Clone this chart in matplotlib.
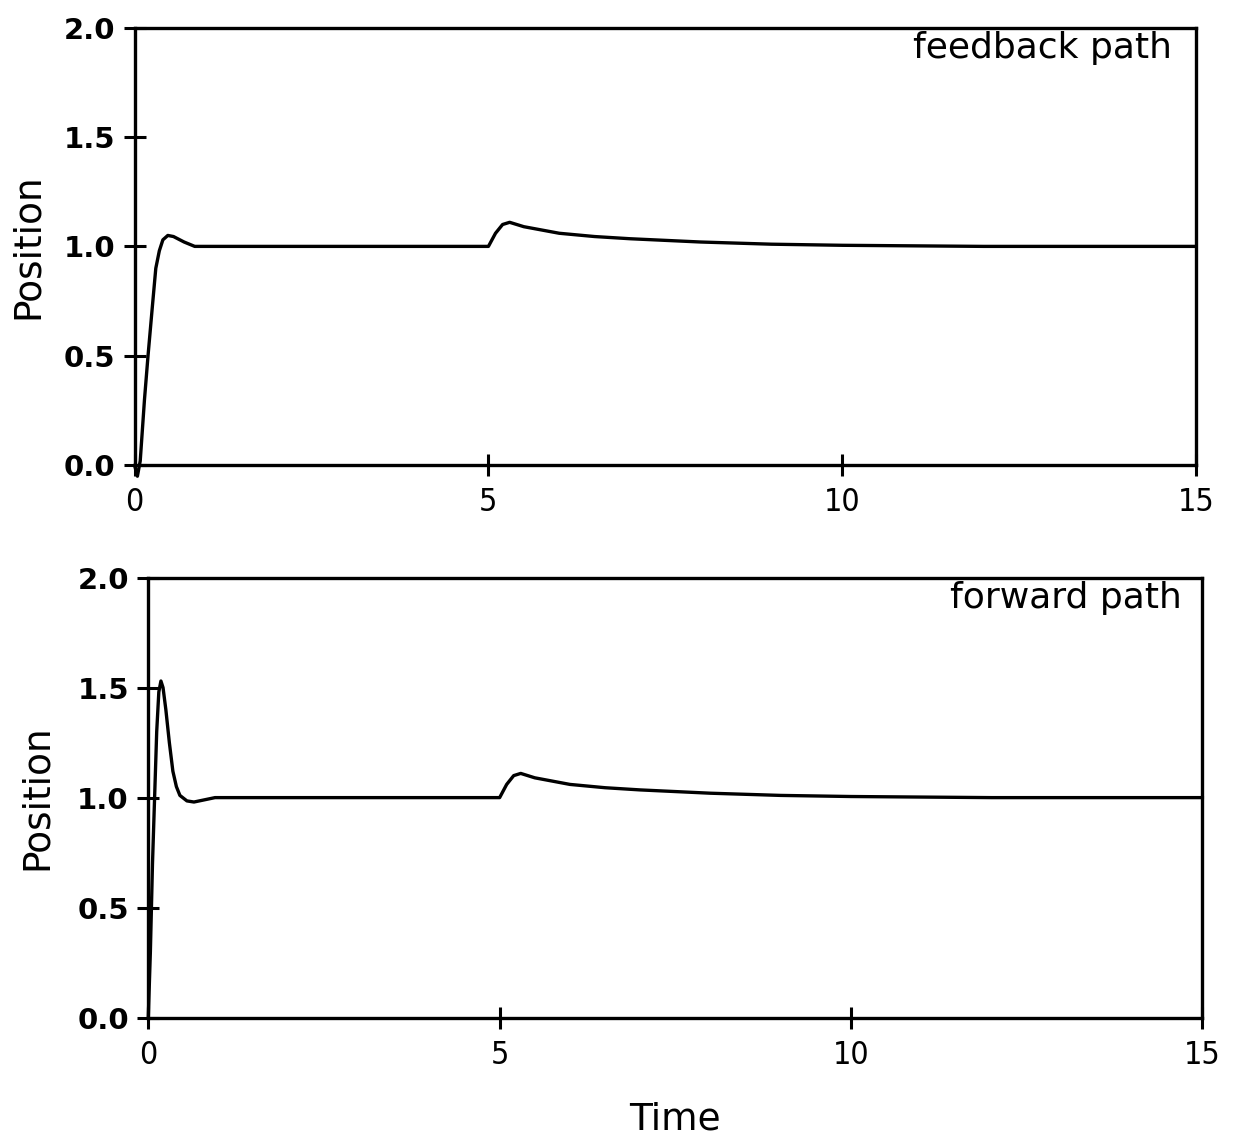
import matplotlib
matplotlib.use("Agg")
import matplotlib.pyplot as plt

# ---- data ----
t_feedback = [0.0, 0.04, 0.08, 0.14, 0.19, 0.25, 0.30, 0.35, 0.40, 0.47, 0.55, 0.70, 0.85,
              1.5, 2.5, 3.5, 4.5, 5.0, 5.1, 5.2, 5.3, 5.5, 6.0, 6.5, 7.0, 8.0, 9.0, 10.0, 12.0, 15.0]
y_feedback = [0.0, -0.05, 0.02, 0.30, 0.50, 0.72, 0.90, 0.98, 1.03, 1.05, 1.045, 1.02, 1.0,
              1.0, 1.0, 1.0, 1.0, 1.0, 1.06, 1.10, 1.11, 1.09, 1.06, 1.045, 1.035, 1.02, 1.01, 1.005, 1.0, 1.0]

t_forward = [0.0, 0.03, 0.06, 0.09, 0.12, 0.15, 0.18, 0.21, 0.25, 0.30, 0.35, 0.40, 0.45, 0.55, 0.65,
             0.80, 0.95, 2.0, 3.0, 4.0, 5.0, 5.1, 5.2, 5.3, 5.5, 6.0, 6.5, 7.0, 8.0, 9.0, 10.0, 12.0, 15.0]
y_forward = [0.0, 0.30, 0.70, 1.00, 1.30, 1.48, 1.53, 1.50, 1.40, 1.25, 1.12, 1.05, 1.01, 0.985, 0.98,
             0.99, 1.0, 1.0, 1.0, 1.0, 1.0, 1.06, 1.10, 1.11, 1.09, 1.06, 1.045, 1.035, 1.02, 1.01, 1.005, 1.0, 1.0]

x_ticks = [0, 5, 10, 15]
y_ticks = [0.0, 0.5, 1.0, 1.5, 2.0]
y_ticklabels = ["0.0", "0.5", "1.0", "1.5", "2.0"]
panel_labels = ["feedback path", "forward path"]

fig = plt.figure(figsize=(12.46, 11.46), dpi=100)
ax1 = fig.add_axes([0.108, 0.594, 0.852, 0.382])
ax2 = fig.add_axes([0.119, 0.112, 0.846, 0.384])

for ax, t, y, lab, lx, lp in [(ax1, t_feedback, y_feedback, panel_labels[0], 0.977, 13),
                              (ax2, t_forward, y_forward, panel_labels[1], 0.981, 16)]:
    ax.plot(t, y, color="black", lw=2.4, solid_joinstyle="round", clip_on=False)
    ax.set_xlim(0, 15)
    ax.set_ylim(0, 2.0)
    ax.set_xticks(x_ticks)
    ax.set_xticklabels([str(v) for v in x_ticks], fontsize=23, fontstretch="condensed")
    ax.set_yticks(y_ticks)
    ax.set_yticklabels(y_ticklabels, fontsize=21, fontweight="bold")
    ax.tick_params(direction="inout", length=16, width=2.2, pad=6, color="black")
    ax.tick_params(axis="x", pad=8)
    for s in ax.spines.values():
        s.set_linewidth(2.4)
    ax.set_ylabel("Position", fontsize=27, labelpad=lp)
    ax.text(lx, 0.992, lab, transform=ax.transAxes, ha="right", va="top", fontsize=26)

ax2.set_xlabel("Time", fontsize=27, labelpad=22)

fig.savefig("out.png", dpi=100)
